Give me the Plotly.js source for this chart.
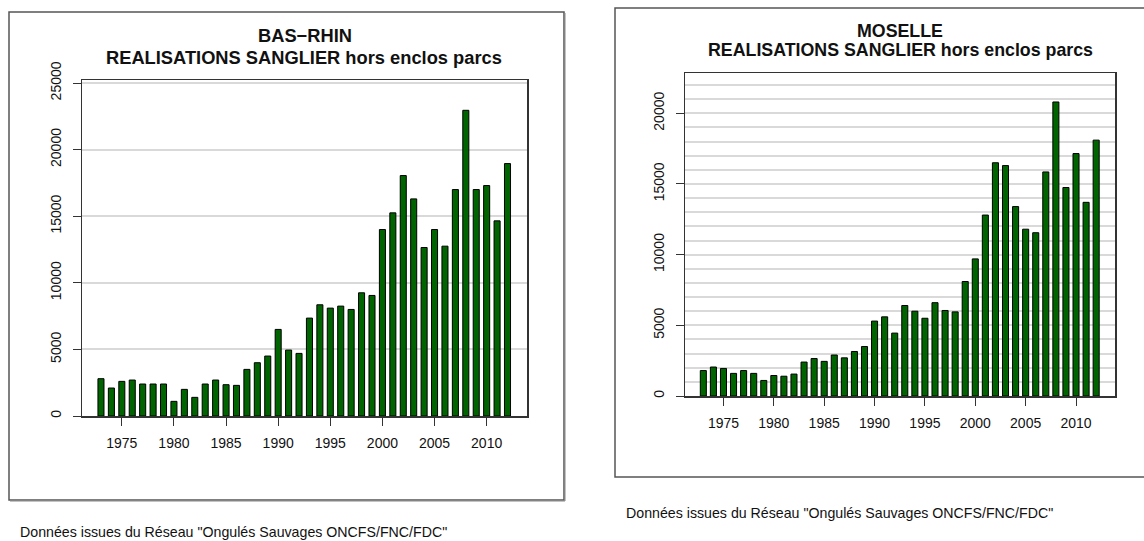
<!DOCTYPE html>
<html>
<head>
<meta charset="utf-8">
<script src="https://cdn.plot.ly/plotly-3.0.1.min.js"></script>
<style>html,body{margin:0;padding:0;background:#fff;}#chart{width:1144px;height:541px;}</style>
</head>
<body>
<div id="chart"></div>
<script>
var years = [1973,1974,1975,1976,1977,1978,1979,1980,1981,1982,1983,1984,1985,1986,1987,1988,1989,1990,1991,1992,1993,1994,1995,1996,1997,1998,1999,2000,2001,2002,2003,2004,2005,2006,2007,2008,2009,2010,2011,2012];
var basRhin = [2800,2100,2600,2700,2400,2400,2400,1100,2000,1400,2400,2700,2350,2300,3500,4000,4500,6500,4950,4700,7350,8350,8100,8250,8000,9250,9050,14000,15250,18050,16300,12650,14000,12750,17000,22950,17000,17300,14650,18950];
var moselle = [1800,2050,1950,1600,1800,1600,1100,1450,1400,1550,2400,2650,2450,2900,2700,3150,3500,5300,5600,4450,6400,6000,5500,6600,6050,5950,8100,9700,12800,16500,16300,13400,11800,11550,15850,20800,14750,17150,13700,18100];
var xTickVals = [1975,1980,1985,1990,1995,2000,2005,2010];
var yTickLeft = [0,5000,10000,15000,20000,25000];
var yTickRight = [0,5000,10000,15000,20000];
var titleLeft = ["BAS\u2212RHIN", "REALISATIONS SANGLIER hors enclos parcs"];
var titleRight = ["MOSELLE", "REALISATIONS SANGLIER hors enclos parcs"];
var source = "Donn\u00e9es issues du R\u00e9seau \"Ongul\u00e9s Sauvages ONCFS/FNC/FDC\"";

var W = 1144, H = 541;
function px(x){ return x / W; }
function py(y){ return 1 - y / H; }

var barStyle = {color: '#006400', line: {color: '#000000', width: 1}};
var traces = [
  {type: 'bar', x: years, y: basRhin, xaxis: 'x', yaxis: 'y', marker: barStyle, width: 0.58, hoverinfo: 'x+y', showlegend: false},
  {type: 'bar', x: years, y: moselle, xaxis: 'x2', yaxis: 'y2', marker: barStyle, width: 0.6, hoverinfo: 'x+y', showlegend: false}
];

var tickFont = {family: 'Liberation Sans, Arial, sans-serif', size: 14, color: '#111'};
function xAxis(domain, anchor){
  return {domain: domain, anchor: anchor, range: [1971.18, 2013.87], tickmode: 'array', tickvals: xTickVals,
    ticktext: xTickVals.map(String), ticks: 'outside', ticklen: 8, tickwidth: 1, tickcolor: '#333',
    showline: true, mirror: true, linecolor: '#333', linewidth: 1.5, showgrid: false, zeroline: false,
    tickfont: tickFont, ticklabelstandoff: 6, fixedrange: true};
}
function yAxis(domain, anchor, range, ticks, minorGrid){
  var a = {domain: domain, anchor: anchor, range: range, tickmode: 'array', tickvals: ticks,
    ticktext: ticks.map(String), ticks: 'outside', ticklen: 8, tickwidth: 1, tickcolor: '#333',
    tickangle: -90, showline: true, mirror: true, linecolor: '#333', linewidth: 1.5,
    showgrid: true, gridcolor: '#d9d9d9', gridwidth: 2, zeroline: false, tickfont: tickFont,
    ticklabelstandoff: 6, fixedrange: true};
  if (minorGrid) a.minor = {dtick: 1000, tick0: 0, showgrid: true, gridcolor: '#d9d9d9', gridwidth: 2, ticks: ''};
  return a;
}

var titleFontL = {family: 'Liberation Sans, Arial, sans-serif', size: 18.3, color: '#111'};
var titleFontR = {family: 'Liberation Sans, Arial, sans-serif', size: 17.8, color: '#111'};
var footFont = {family: 'Liberation Sans, Arial, sans-serif', size: 14.2, color: '#111'};

var layout = {
  width: W, height: H,
  margin: {l: 0, r: 0, t: 0, b: 0},
  paper_bgcolor: '#ffffff', plot_bgcolor: '#ffffff',
  bargap: 0,
  xaxis: xAxis([px(82), px(527)], 'y'),
  yaxis: yAxis([py(416), py(80)], 'x', [0, 25225], yTickLeft, false),
  xaxis2: xAxis([px(685), px(1115)], 'y2'),
  yaxis2: yAxis([py(396), py(73)], 'x2', [0, 22850], yTickRight, true),
  shapes: [
    {type: 'rect', xref: 'paper', yref: 'paper', x0: px(9), x1: px(564), y0: py(500), y1: py(12), line: {color: '#555', width: 1.5}, layer: 'below'},
    {type: 'line', xref: 'paper', yref: 'paper', x0: px(10), x1: px(565), y0: py(501), y1: py(501), line: {color: '#888', width: 1}, layer: 'below'},
    {type: 'line', xref: 'paper', yref: 'paper', x0: px(565), x1: px(565), y0: py(13), y1: py(501), line: {color: '#888', width: 1}, layer: 'below'},
    {type: 'rect', xref: 'paper', yref: 'paper', x0: px(615), x1: px(1150), y0: py(477), y1: py(8), line: {color: '#555', width: 1.5}, layer: 'below'}
  ],
  annotations: [
    {xref: 'paper', yref: 'paper', x: px(305), y: py(36), text: '<b>' + titleLeft[0] + '</b>', showarrow: false, font: titleFontL, xanchor: 'center', yanchor: 'middle'},
    {xref: 'paper', yref: 'paper', x: px(304), y: py(57), text: '<b>' + titleLeft[1] + '</b>', showarrow: false, font: titleFontL, xanchor: 'center', yanchor: 'middle'},
    {xref: 'paper', yref: 'paper', x: px(900), y: py(31), text: '<b>' + titleRight[0] + '</b>', showarrow: false, font: titleFontR, xanchor: 'center', yanchor: 'middle'},
    {xref: 'paper', yref: 'paper', x: px(900), y: py(50), text: '<b>' + titleRight[1] + '</b>', showarrow: false, font: titleFontR, xanchor: 'center', yanchor: 'middle'},
    {xref: 'paper', yref: 'paper', x: px(18), y: py(532), text: source, showarrow: false, font: footFont, xanchor: 'left', yanchor: 'middle'},
    {xref: 'paper', yref: 'paper', x: px(624), y: py(513), text: source, showarrow: false, font: footFont, xanchor: 'left', yanchor: 'middle'}
  ]
};

Plotly.newPlot('chart', traces, layout, {displayModeBar: false, staticPlot: true});
</script>
</body>
</html>
